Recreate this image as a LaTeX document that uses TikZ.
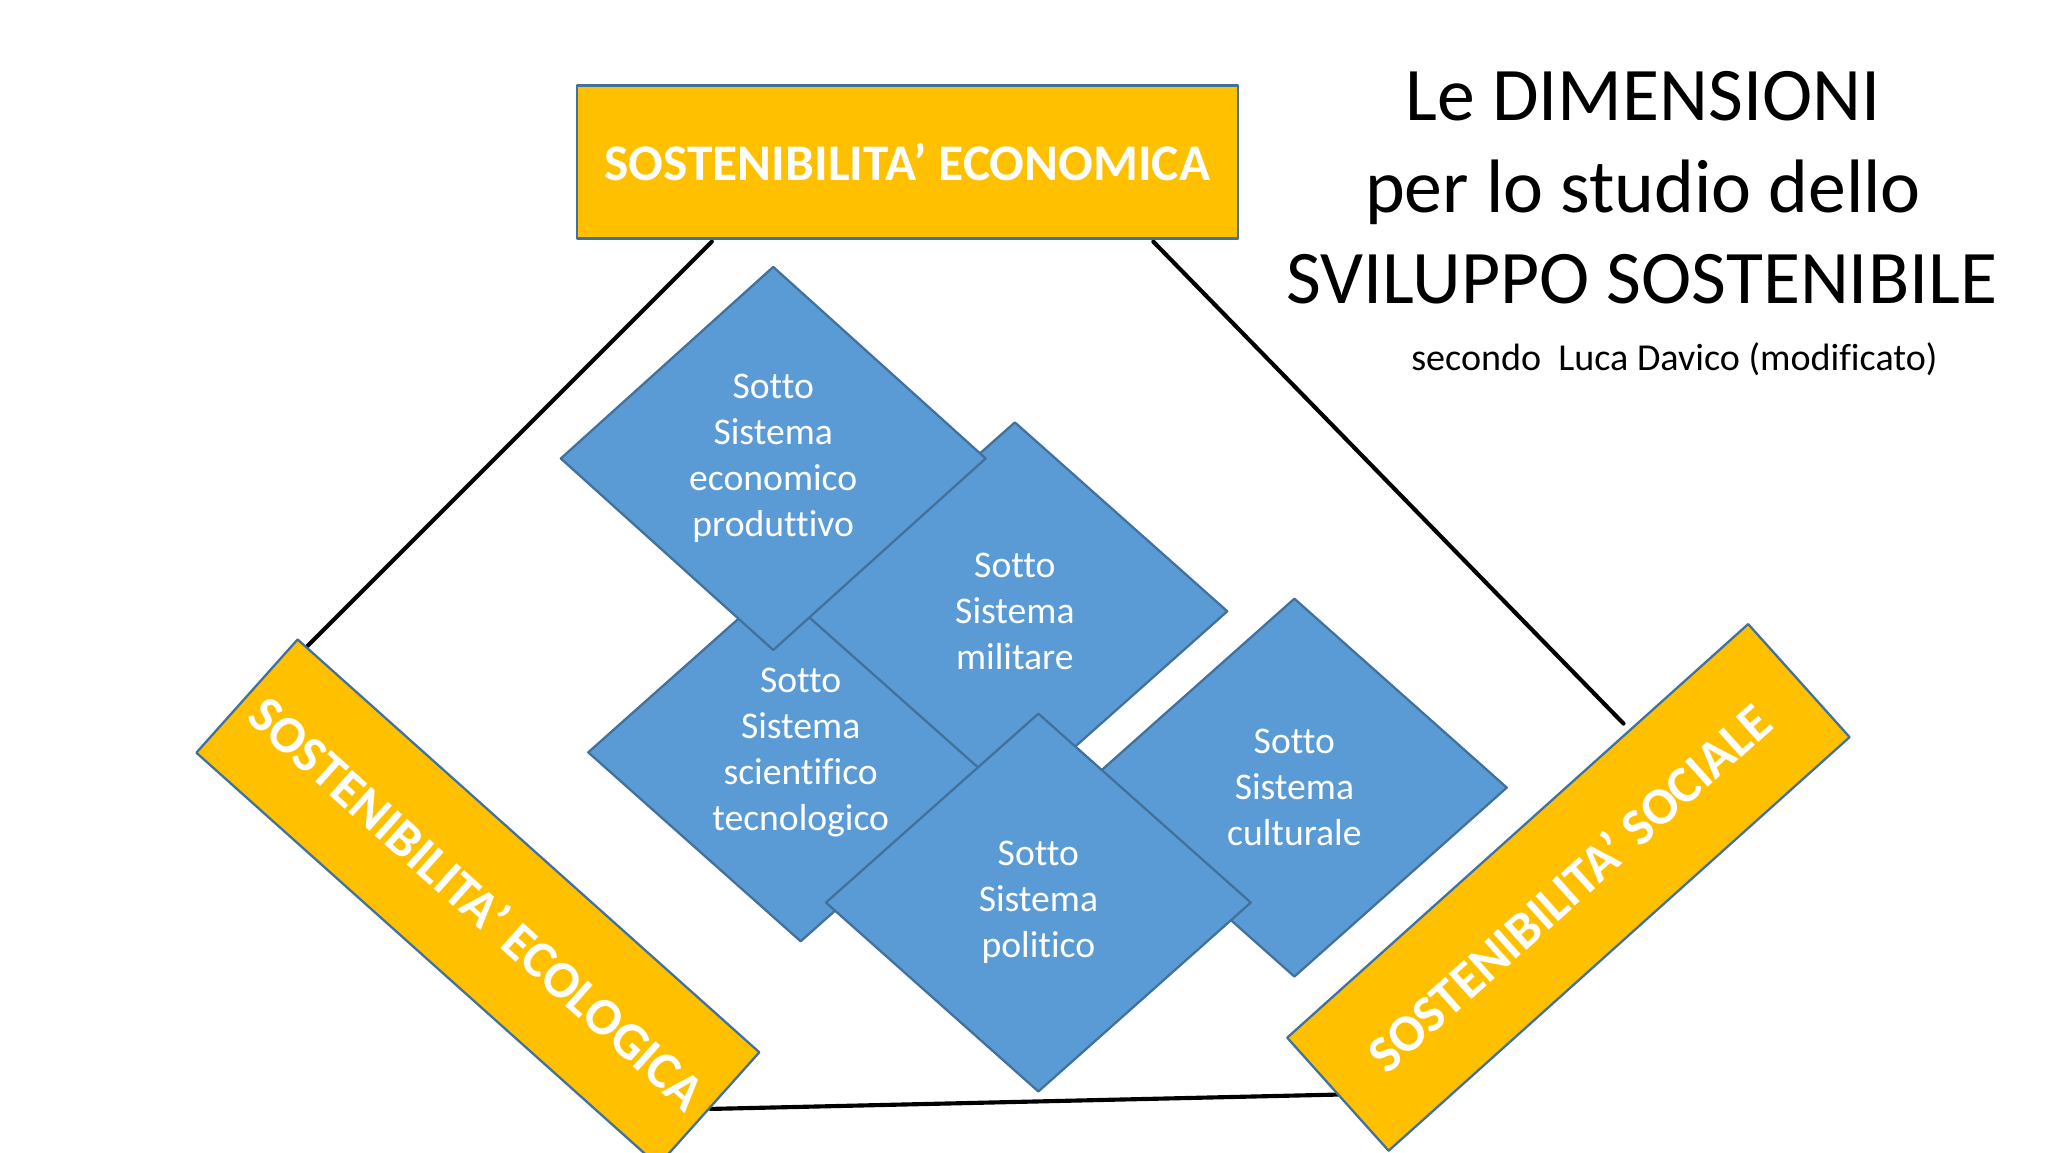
\documentclass[tikz,border=0pt]{standalone}
\usepackage{fontspec}
\setmainfont{Carlito}[Ligatures=NoCommon]
\usepackage{tikz}
\usetikzlibrary{shapes.geometric}
\definecolor{gold}{HTML}{FFC000}
\definecolor{steel}{HTML}{5B9BD5}
\definecolor{rim}{HTML}{41719C}

\begin{document}
\begin{tikzpicture}[line cap=round, line join=round,
    pillar/.style={draw=rim, line width=0.5pt, fill=gold, text=white, inner sep=0pt,
      font=\fontsize{11.4}{13}\selectfont\bfseries},
    sotto/.style={diamond, draw=rim, line width=0.5pt, fill=steel, text=white, align=center,
      inner sep=0pt, minimum width=3.26cm, minimum height=2.9cm,
      font=\fontsize{8.2}{10.05}\selectfont},
    title/.style={anchor=base, font=\fontsize{16.5}{20}\selectfont},
    link/.style={line width=0.9pt, black}]
        \useasboundingbox (0,0) rectangle (15.68,-8.82);

        % free ends of the triangle sides
        \coordinate (a1) at (5.45,-1.85);
        \coordinate (a2) at (2.33,-4.97);
        \coordinate (b1) at (8.83,-1.85);
        \coordinate (b2) at (12.43,-5.54);
        \coordinate (c1) at (5.44,-8.49);
        \coordinate (c2) at (10.245,-8.38);

        % triangle sides
        \draw[link] (a1) -- (a2);
        \draw[link] (b1) -- (b2);
        \draw[link] (c1) -- (c2);

        % the three pillars
        \node[pillar, minimum width=5.06cm, minimum height=1.17cm, font=\fontsize{11.2}{13}\selectfont\bfseries]
            (econ) at (6.9465,-1.2405) {SOSTENIBILITA’ ECONOMICA};
        \node[pillar, rotate=-41.8, minimum width=4.742cm, minimum height=1.163cm]
            (ecol) at (3.6585,-6.9095) {SOSTENIBILITA’ ECOLOGICA};
        \node[pillar, rotate=41.9, minimum width=4.742cm, minimum height=1.163cm]
            (soc) at (12.008,-6.794) {SOSTENIBILITA’ SOCIALE};

        % sub-systems (back to front)
        \node[sotto] (sci) at (6.13,-5.76) {Sotto\\Sistema\\scientifico\\tecnologico};
        \node[sotto] (mil) at (7.77,-4.68) {Sotto\\Sistema\\militare};
        \node[sotto, minimum height=2.94cm] (eco) at (5.92,-3.51) {Sotto\\Sistema\\economico\\produttivo};
        \node[sotto] (cul) at (9.91,-6.03) {Sotto\\Sistema\\culturale};
        \node[sotto] (pol) at (7.95,-6.91) {Sotto\\Sistema\\politico};

        % heading
        \node[title] (h1) at (12.58,-0.92) {Le DIMENSIONI};
        \node[title] (h2) at (12.58,-1.628) {per lo studio dello};
        \node[title] (h3) at (12.57,-2.322) {SVILUPPO SOSTENIBILE};
        \node[anchor=base, font=\fontsize{8.3}{9}\selectfont] (h4) at (12.82,-2.838) {secondo\ \ Luca Davico (modificato)};
\end{tikzpicture}
\end{document}
